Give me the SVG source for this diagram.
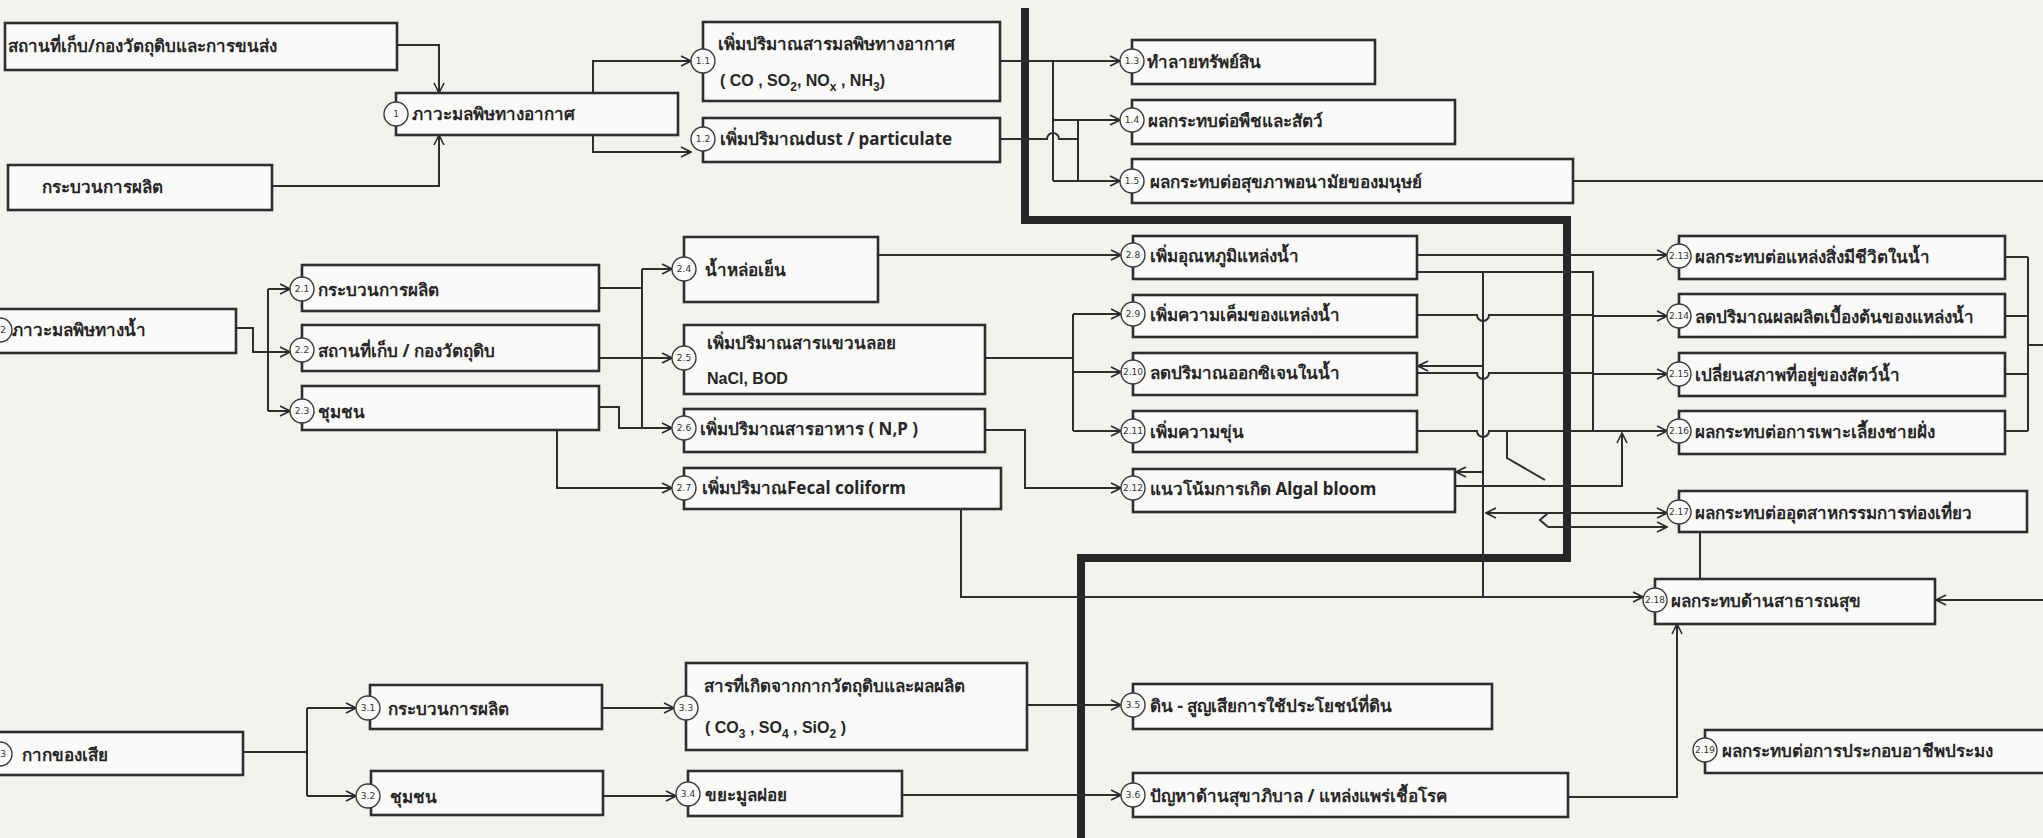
<svg xmlns="http://www.w3.org/2000/svg" width="2043" height="838" viewBox="0 0 2043 838">
<defs>
<marker id="ar" viewBox="0 0 12 12" refX="11" refY="6" markerWidth="12" markerHeight="12" markerUnits="userSpaceOnUse" orient="auto">
<path d="M1,1 L11,6 L1,11" fill="none" stroke="#2a2a2a" stroke-width="1.6"/>
</marker>
</defs>
<style>
.bx{fill:#fafaf8;stroke:#2e2e2e;stroke-width:2.6}
.c{fill:#fafaf8;stroke:#3a3a3a;stroke-width:1.4}
.n{font-family:'DejaVu Sans','Liberation Sans',sans-serif;font-size:9px;fill:#333;text-anchor:middle}
.t{font-family:'Noto Sans','DejaVu Sans','Liberation Sans',sans-serif;font-size:17px;font-weight:bold;fill:#262626}
.tl{font-family:'Liberation Sans',sans-serif;font-size:16px;font-weight:bold;fill:#262626}
.ln{fill:none;stroke:#2e2e2e;stroke-width:2}
.ar{fill:none;stroke:#2e2e2e;stroke-width:2;marker-end:url(#ar)}
.thick{fill:none;stroke:#262626;stroke-width:8}
</style>
<rect width="2043" height="838" fill="#f2f2ef"/>

<g id="connectors">
<path class="thick" d="M1025,8 V220 H1567 V558 H1081 V838"/>
<path class="ar" d="M397,45 H439 V93"/>
<path class="ar" d="M272,186 H439 V135"/>
<path class="ar" d="M593,93 V61 H691"/>
<path class="ar" d="M593,135 V152 H691"/>
<path class="ar" d="M1000,61 H1120"/>
<path class="ln" d="M1053,61 V181"/>
<path class="ar" d="M1053,120 H1120"/>
<path class="ar" d="M1053,181 H1120"/>
<path class="ln" d="M1000,139 H1047 A6,6 0 0 1 1059,139 H1078 M1078,120 V181"/>
<path class="ln" d="M1573,181 H2043"/>
<path class="ar" d="M236,328 H253 V352 H290"/>
<path class="ln" d="M268,289 V411"/>
<path class="ar" d="M268,289 H290"/>
<path class="ar" d="M268,411 H290"/>
<path class="ln" d="M599,288 H642 M642,269 V428"/>
<path class="ar" d="M642,269 H672"/>
<path class="ar" d="M599,358 H672"/>
<path class="ar" d="M599,407 H619 V428 H672"/>
<path class="ar" d="M557,430 V488 H672"/>
<path class="ar" d="M878,255 H1121"/>
<path class="ln" d="M985,358 H1073 M1073,314 V431"/>
<path class="ar" d="M1073,314 H1121"/>
<path class="ar" d="M1073,372 H1121"/>
<path class="ar" d="M1073,431 H1121"/>
<path class="ar" d="M985,430 H1025 V488 H1121"/>
<path class="ar" d="M961,509 V597 H1643"/>
<path class="ar" d="M1417,255 H1667"/>
<path class="ln" d="M1417,272 H1593 V431"/>
<path class="ln" d="M1417,315 H1477 A6,6 0 0 0 1489,315 H1593"/>
<path class="ln" d="M1417,373 H1477 A6,6 0 0 0 1489,373 H1593"/>
<path class="ln" d="M1417,431 H1477 A6,6 0 0 0 1489,431 H1593"/>
<path class="ar" d="M1593,316 H1667"/>
<path class="ar" d="M1593,374 H1667"/>
<path class="ar" d="M1593,431 H1667"/>
<path class="ln" d="M1483,272 V597"/>
<path class="ar" d="M1483,366 H1418"/>
<path class="ar" d="M1483,472 H1456"/>
<path class="ar" d="M1455,486 H1622 V433"/>
<path class="ln" d="M1507,431 V458 L1545,480"/>
<path class="ar" d="M1548,513 H1486"/>
<path class="ar" d="M1548,513 H1667"/>
<path class="ar" d="M1548,527 H1667"/>
<path class="ln" d="M1548,513 L1540,520 L1548,527"/>
<path class="ln" d="M2005,257 H2028 M2005,316 H2028 M2005,374 H2028 M2005,431 H2028 M2028,257 V431 M2028,345 H2043"/>
<path class="ln" d="M1700,532 V579"/>
<path class="ar" d="M1568,797 H1677 V624"/>
<path class="ar" d="M2043,600 H1936"/>
<path class="ln" d="M243,752 H307 M307,708 V796"/>
<path class="ar" d="M307,708 H356"/>
<path class="ar" d="M307,796 H356"/>
<path class="ar" d="M602,708 H674"/>
<path class="ar" d="M603,796 H676"/>
<path class="ar" d="M1027,705 H1121"/>
<path class="ar" d="M902,795 H1121"/>
</g>

<g id="nA"><rect class="bx" x="5" y="23" width="392" height="47"/><text class="t" x="8" y="52">สถานที่เก็บ/กองวัตถุดิบและการขนส่ง</text></g>
<g id="nB"><rect class="bx" x="8" y="165" width="264" height="45"/><text class="t" x="42" y="193">กระบวนการผลิต</text></g>
<g id="n1"><rect class="bx" x="396" y="93" width="282" height="42"/><circle class="c" cx="396" cy="114" r="12"/><text class="n" x="396" y="117">1</text><text class="t" x="412" y="120">ภาวะมลพิษทางอากาศ</text></g>
<g id="n1-1"><rect class="bx" x="703" y="22" width="297" height="79"/><circle class="c" cx="703" cy="61" r="12"/><text class="n" x="703" y="64">1.1</text><text class="t" x="718" y="50">เพิ่มปริมาณสารมลพิษทางอากาศ</text><text class="tl" x="720" y="86">( CO , SO<tspan font-size="12" dy="5">2</tspan><tspan dy="-5">, NO</tspan><tspan font-size="12" dy="5">x</tspan><tspan dy="-5"> , NH</tspan><tspan font-size="12" dy="5">3</tspan><tspan dy="-5">)</tspan></text></g>
<g id="n1-2"><rect class="bx" x="703" y="118" width="297" height="44"/><circle class="c" cx="703" cy="139" r="12"/><text class="n" x="703" y="142">1.2</text><text class="t" x="720" y="145">เพิ่มปริมาณdust / particulate</text></g>
<g id="n1-3"><rect class="bx" x="1132" y="40" width="243" height="44"/><circle class="c" cx="1132" cy="61" r="12"/><text class="n" x="1132" y="64">1.3</text><text class="t" x="1147" y="68">ทำลายทรัพย์สิน</text></g>
<g id="n1-4"><rect class="bx" x="1132" y="100" width="323" height="44"/><circle class="c" cx="1132" cy="120" r="12"/><text class="n" x="1132" y="123">1.4</text><text class="t" x="1148" y="127">ผลกระทบต่อพืชและสัตว์</text></g>
<g id="n1-5"><rect class="bx" x="1132" y="159" width="441" height="44"/><circle class="c" cx="1132" cy="181" r="12"/><text class="n" x="1132" y="184">1.5</text><text class="t" x="1150" y="188">ผลกระทบต่อสุขภาพอนามัยของมนุษย์</text></g>

<g id="n2"><rect class="bx" x="-5" y="309" width="241" height="44"/><circle class="c" cx="0" cy="330" r="12"/><text class="n" x="3" y="333">2</text><text class="t" x="12" y="336">ภาวะมลพิษทางน้ำ</text></g>
<g id="n2-1"><rect class="bx" x="302" y="265" width="297" height="46"/><circle class="c" cx="302" cy="289" r="12"/><text class="n" x="302" y="292">2.1</text><text class="t" x="318" y="296">กระบวนการผลิต</text></g>
<g id="n2-2"><rect class="bx" x="302" y="325" width="297" height="46"/><circle class="c" cx="302" cy="350" r="12"/><text class="n" x="302" y="353">2.2</text><text class="t" x="318" y="357">สถานที่เก็บ / กองวัตถุดิบ</text></g>
<g id="n2-3"><rect class="bx" x="302" y="386" width="297" height="44"/><circle class="c" cx="302" cy="411" r="12"/><text class="n" x="302" y="414">2.3</text><text class="t" x="318" y="418">ชุมชน</text></g>
<g id="n2-4"><rect class="bx" x="684" y="237" width="194" height="65"/><circle class="c" cx="684" cy="269" r="12"/><text class="n" x="684" y="272">2.4</text><text class="t" x="705" y="276">น้ำหล่อเย็น</text></g>
<g id="n2-5"><rect class="bx" x="684" y="325" width="301" height="69"/><circle class="c" cx="684" cy="358" r="12"/><text class="n" x="684" y="361">2.5</text><text class="t" x="707" y="349">เพิ่มปริมาณสารแขวนลอย</text><text class="tl" x="707" y="384">NaCl, BOD</text></g>
<g id="n2-6"><rect class="bx" x="684" y="409" width="301" height="43"/><circle class="c" cx="684" cy="428" r="12"/><text class="n" x="684" y="431">2.6</text><text class="t" x="700" y="435">เพิ่มปริมาณสารอาหาร ( N,P )</text></g>
<g id="n2-7"><rect class="bx" x="684" y="468" width="317" height="41"/><circle class="c" cx="684" cy="488" r="12"/><text class="n" x="684" y="491">2.7</text><text class="t" x="702" y="494">เพิ่มปริมาณFecal coliform</text></g>
<g id="n2-8"><rect class="bx" x="1133" y="236" width="284" height="43"/><circle class="c" cx="1133" cy="255" r="12"/><text class="n" x="1133" y="258">2.8</text><text class="t" x="1150" y="262">เพิ่มอุณหภูมิแหล่งน้ำ</text></g>
<g id="n2-9"><rect class="bx" x="1133" y="295" width="284" height="42"/><circle class="c" cx="1133" cy="314" r="12"/><text class="n" x="1133" y="317">2.9</text><text class="t" x="1150" y="321">เพิ่มความเค็มของแหล่งน้ำ</text></g>
<g id="n2-10"><rect class="bx" x="1133" y="353" width="284" height="42"/><circle class="c" cx="1133" cy="372" r="12"/><text class="n" x="1133" y="375">2.10</text><text class="t" x="1150" y="379">ลดปริมาณออกซิเจนในน้ำ</text></g>
<g id="n2-11"><rect class="bx" x="1133" y="411" width="284" height="41"/><circle class="c" cx="1133" cy="431" r="12"/><text class="n" x="1133" y="434">2.11</text><text class="t" x="1150" y="438">เพิ่มความขุ่น</text></g>
<g id="n2-12"><rect class="bx" x="1133" y="469" width="322" height="43"/><circle class="c" cx="1133" cy="488" r="12"/><text class="n" x="1133" y="491">2.12</text><text class="t" x="1150" y="495">แนวโน้มการเกิด Algal bloom</text></g>
<g id="n2-13"><rect class="bx" x="1679" y="236" width="326" height="43"/><circle class="c" cx="1679" cy="256" r="12"/><text class="n" x="1679" y="259">2.13</text><text class="t" x="1695" y="263">ผลกระทบต่อแหล่งสิ่งมีชีวิตในน้ำ</text></g>
<g id="n2-14"><rect class="bx" x="1679" y="294" width="326" height="43"/><circle class="c" cx="1679" cy="316" r="12"/><text class="n" x="1679" y="319">2.14</text><text class="t" x="1695" y="323">ลดปริมาณผลผลิตเบื้องต้นของแหล่งน้ำ</text></g>
<g id="n2-15"><rect class="bx" x="1679" y="353" width="326" height="43"/><circle class="c" cx="1679" cy="374" r="12"/><text class="n" x="1679" y="377">2.15</text><text class="t" x="1695" y="381">เปลี่ยนสภาพที่อยู่ของสัตว์น้ำ</text></g>
<g id="n2-16"><rect class="bx" x="1679" y="411" width="326" height="43"/><circle class="c" cx="1679" cy="431" r="12"/><text class="n" x="1679" y="434">2.16</text><text class="t" x="1695" y="438">ผลกระทบต่อการเพาะเลี้ยงชายฝั่ง</text></g>
<g id="n2-17"><rect class="bx" x="1679" y="491" width="348" height="41"/><circle class="c" cx="1679" cy="512" r="12"/><text class="n" x="1679" y="515">2.17</text><text class="t" x="1695" y="519">ผลกระทบต่ออุตสาหกรรมการท่องเที่ยว</text></g>
<g id="n2-18"><rect class="bx" x="1655" y="579" width="280" height="45"/><circle class="c" cx="1655" cy="600" r="12"/><text class="n" x="1655" y="603">2.18</text><text class="t" x="1671" y="607">ผลกระทบด้านสาธารณสุข</text></g>
<g id="n2-19"><rect class="bx" x="1705" y="730" width="345" height="43"/><circle class="c" cx="1705" cy="750" r="12"/><text class="n" x="1705" y="753">2.19</text><text class="t" x="1722" y="757">ผลกระทบต่อการประกอบอาชีพประมง</text></g>

<g id="n3"><rect class="bx" x="-5" y="732" width="248" height="43"/><circle class="c" cx="0" cy="754" r="12"/><text class="n" x="3" y="757">3</text><text class="t" x="22" y="761">กากของเสีย</text></g>
<g id="n3-1"><rect class="bx" x="370" y="685" width="232" height="44"/><circle class="c" cx="368" cy="708" r="12"/><text class="n" x="368" y="711">3.1</text><text class="t" x="388" y="715">กระบวนการผลิต</text></g>
<g id="n3-2"><rect class="bx" x="371" y="771" width="232" height="44"/><circle class="c" cx="368" cy="796" r="12"/><text class="n" x="368" y="799">3.2</text><text class="t" x="390" y="803">ชุมชน</text></g>
<g id="n3-3"><rect class="bx" x="686" y="663" width="341" height="87"/><circle class="c" cx="686" cy="708" r="12"/><text class="n" x="686" y="711">3.3</text><text class="t" x="704" y="692">สารที่เกิดจากกากวัตถุดิบและผลผลิต</text><text class="tl" x="705" y="733">( CO<tspan font-size="12" dy="5">3</tspan><tspan dy="-5"> , SO</tspan><tspan font-size="12" dy="5">4</tspan><tspan dy="-5"> ,  SiO</tspan><tspan font-size="12" dy="5">2</tspan><tspan dy="-5"> )</tspan></text></g>
<g id="n3-4"><rect class="bx" x="688" y="771" width="214" height="45"/><circle class="c" cx="688" cy="794" r="12"/><text class="n" x="688" y="797">3.4</text><text class="t" x="705" y="801">ขยะมูลฝอย</text></g>
<g id="n3-5"><rect class="bx" x="1133" y="684" width="359" height="45"/><circle class="c" cx="1133" cy="705" r="12"/><text class="n" x="1133" y="708">3.5</text><text class="t" x="1150" y="712">ดิน - สูญเสียการใช้ประโยชน์ที่ดิน</text></g>
<g id="n3-6"><rect class="bx" x="1133" y="773" width="435" height="44"/><circle class="c" cx="1133" cy="795" r="12"/><text class="n" x="1133" y="798">3.6</text><text class="t" x="1150" y="802">ปัญหาด้านสุขาภิบาล / แหล่งแพร่เชื้อโรค</text></g>
</svg>
